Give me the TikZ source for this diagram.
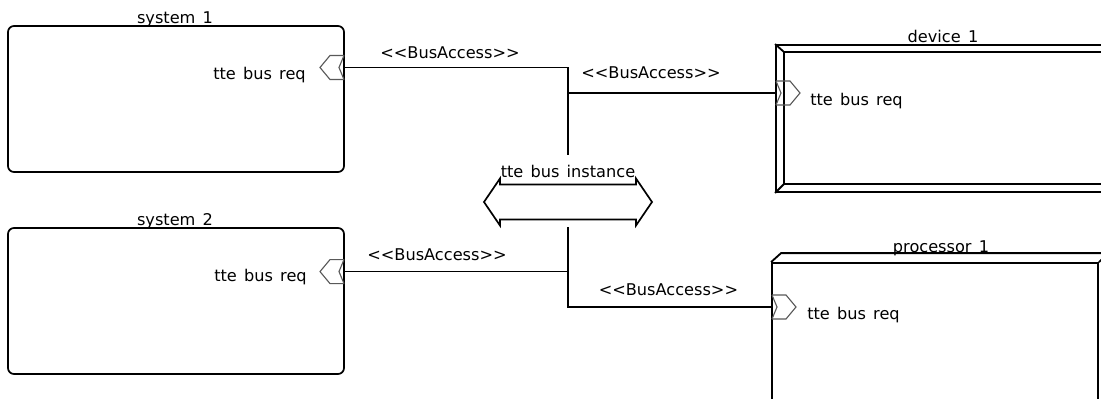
\documentclass[tikz,border=0pt]{standalone}
\usepackage{fontspec}
\setmainfont{DejaVu Sans}[Ligatures=TeXOff, WordSpace=1.4]
\begin{document}
\begin{tikzpicture}[
    every node/.style={font=\fontsize{11.5}{14}\selectfont, inner sep=0pt},
    sysbox/.style={draw, line width=1.2pt, rounded corners=0.15cm, minimum width=8.4cm, minimum height=3.65cm},
    hwbox/.style={draw, line width=1.3pt},
    conn/.style={line width=1.2pt},
    port/.style={draw=black!65, line width=0.8pt}]
    \useasboundingbox (0,0) rectangle (27.525,9.95);
    \clip (0,0) rectangle (27.525,9.95);

    \node[sysbox] (sys1) at (4.4,7.475) {};
    \node[sysbox] (sys2) at (4.4,2.425) {};
    \node[hwbox, minimum width=8.4cm, minimum height=3.675cm] (dev1) at (23.6,6.9875) {};
    \node[hwbox, minimum width=8.15cm, minimum height=3.975cm] (proc1) at (23.375,1.3875) {};

    \node[anchor=base] (sys1name) at (4.375,9.35) {system 1};
    \node[anchor=base] (sys2name) at (4.375,4.325) {system 2};
    \node[anchor=base] (dev1name) at (23.575,8.9) {device 1};
    \node[anchor=base] (proc1name) at (23.525,3.65) {processor 1};

    % device frame
    \draw[hwbox] ([shift={(0.225,-0.2)}]dev1.north west) rectangle ([shift={(-0.225,0.225)}]dev1.south east);
    \draw[hwbox] (dev1.north west) -- ++(0.225,-0.2) (dev1.south west) -- ++(0.225,0.225)
        (dev1.north east) -- ++(-0.225,-0.2) (dev1.south east) -- ++(-0.225,0.225);

    % processor depth
    \draw[hwbox] (proc1.north west) -- ++(0.25,0.225) -- ([shift={(0.25,0.225)}]proc1.north east) -- (proc1.north east);
    \draw[hwbox] ([shift={(0.25,0.225)}]proc1.north east) -- ([shift={(0.25,0.225)}]proc1.south east);

    \coordinate (s1port) at (8.6,8.2625);
    \coordinate (s2port) at (8.6,3.16);
    \coordinate (d1port) at (19.4,7.625);
    \coordinate (p1port) at (19.3,2.275);

    \foreach \p in {s1port,s2port} {
        \draw[port] (\p) ++(0,0.3) -- ++(-0.35,0) -- ++(-0.25,-0.3) -- ++(0.25,-0.3) -- ++(0.35,0);
        \draw[port] ([yshift=0.3cm]\p) -- ([xshift=-0.125cm]\p) -- ([yshift=-0.3cm]\p);
    }
    \foreach \p in {d1port,p1port} {
        \draw[port] (\p) ++(0,0.3) -- ++(0.35,0) -- ++(0.25,-0.3) -- ++(-0.25,-0.3) -- ++(-0.35,0);
        \draw[port] ([yshift=0.3cm]\p) -- ([xshift=0.125cm]\p) -- ([yshift=-0.3cm]\p);
    }

    \node[anchor=base east] (s1req) at (7.65,7.95) {tte bus req};
    \node[anchor=base east] (s2req) at (7.675,2.925) {tte bus req};
    \node[anchor=base west] (d1req) at (20.25,7.325) {tte bus req};
    \node[anchor=base west] (p1req) at (20.175,1.975) {tte bus req};

    % bus
    \draw[line width=1.2pt] (12.5,5.3375) -- (15.9,5.3375) -- (15.9,5.4875) -- (16.3,4.9) -- (15.9,4.3125)
        -- (15.9,4.4625) -- (12.5,4.4625) -- (12.5,4.3125) -- (12.1,4.9) -- (12.5,5.4875) -- cycle;
    \node[anchor=base] (busname) at (14.2,5.525) {tte bus instance};
    \coordinate (bustop) at (14.2,6.075);
    \coordinate (busbot) at (14.2,4.275);

    \draw[conn] (s1port) -| (bustop);
    \draw[conn] (bustop |- d1port) -- (d1port);
    \draw[conn] (s2port) -| (busbot) |- (p1port);

    \node[anchor=base] (acc1) at (11.25,8.475) {<<BusAccess>>};
    \node[anchor=base] (acc2) at (16.275,7.975) {<<BusAccess>>};
    \node[anchor=base] (acc3) at (10.925,3.45) {<<BusAccess>>};
    \node[anchor=base] (acc4) at (16.71,2.575) {<<BusAccess>>};
\end{tikzpicture}
\end{document}
